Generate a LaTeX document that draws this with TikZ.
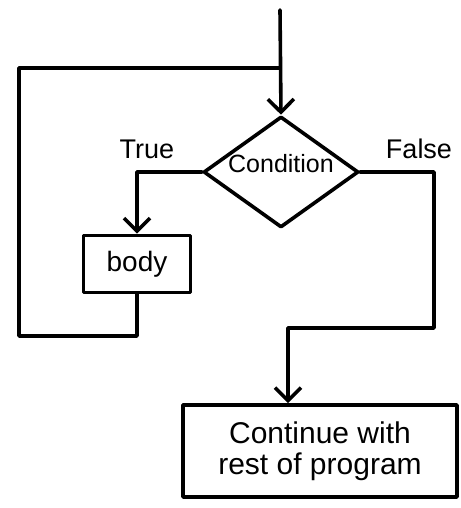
\documentclass[tikz,border=0pt]{standalone}
\usepackage{fontspec}
\setmainfont{Liberation Sans}
\usetikzlibrary{shapes.geometric,arrows.meta}

\tikzset{
  flow/.style={line width=3.6pt, line join=round, line cap=round},
  arrowline/.style={flow, -{Straight Barb[length=13pt,width=26pt,line width=3.6pt]}},
  decision/.style={draw, flow, shape=diamond, shape aspect=1.4, inner sep=0pt,
    minimum width=155pt, minimum height=111pt},
  stepbox/.style={draw, flow, shape=rectangle, inner sep=0pt},
  lbl/.style={font=\fontsize{27}{30}\selectfont, inner sep=0pt}
}

\begin{document}
\begin{tikzpicture}[x=1pt, y=-1pt]
  \useasboundingbox (0,0) rectangle (460,508);

  % shapes
  \node[decision] (cond) at (281,172) {};
  \node[lbl, font=\fontsize{25}{30}\selectfont] (condtext) at (281,164) {Condition};
  \node[stepbox, minimum width=107pt, minimum height=57pt,
        font=\fontsize{28}{32}\selectfont] (body) at (137,264) {body};
  \node[stepbox, minimum width=274pt, minimum height=92pt,
        align=center, font=\fontsize{30}{31}\selectfont] (rest) at (320,451)
        {Continue with\\rest of program};

  % branch labels
  \node[lbl] (truelbl) at (147,149) {True};
  \node[lbl] (falselbl) at (419,149) {False};

  % helper points
  \coordinate (start) at (280,10);
  \coordinate (join) at (280,68);
  \coordinate (loopTL) at (19,68);
  \coordinate (loopBL) at (19,336);
  \coordinate (falseTR) at (434,172);
  \coordinate (falseBR) at (434,328);
  \coordinate (restin) at ([xshift=-32pt]rest.north);

  % connectors
  \draw[arrowline] (start) -- (cond.north);
  \draw[flow] (body.south) -- (body.south |- loopBL) -- (loopBL) -- (loopTL) -- (join);
  \draw[arrowline] (cond.west) -- (cond.west -| body.north) -- (body.north);
  \draw[arrowline] (cond.east) -- (falseTR) -- (falseBR) -- (restin |- falseBR) -- (restin);
\end{tikzpicture}
\end{document}
